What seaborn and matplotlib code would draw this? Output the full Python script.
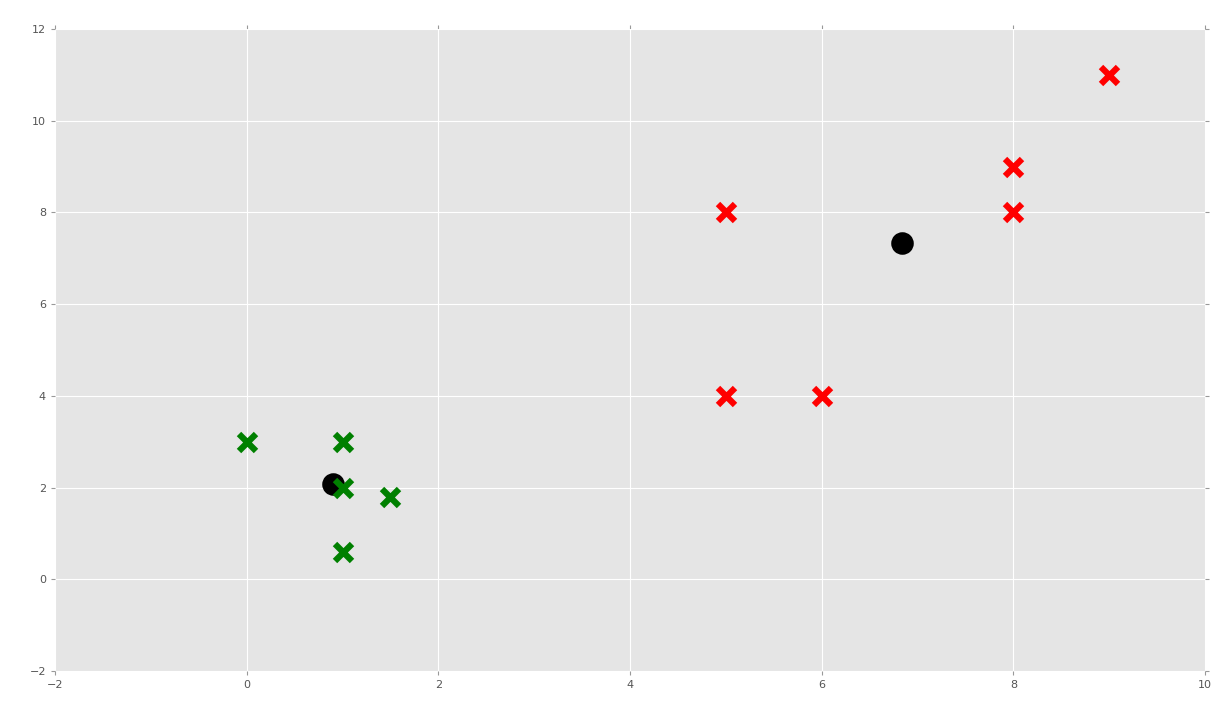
import matplotlib
matplotlib.use("Agg")
import matplotlib.pyplot as plt
import seaborn as sns
import pandas as pd

# data points and cluster labels
x_vals = [1, 1.5, 5, 8, 1, 9, 8, 0, 5, 6, 1]
y_vals = [2, 1.8, 8, 8, 0.6, 11, 9, 3, 4, 4, 3]
cluster = ["g", "g", "r", "r", "g", "r", "r", "g", "r", "r", "g"]
# centroids
cx = [0.9, 6.8333]
cy = [2.08, 7.3333]

sns.set_style({"axes.facecolor": "#E5E5E5", "axes.edgecolor": "white",
               "grid.color": "white", "axes.grid": True})
plt.rcParams["font.family"] = ["DejaVu Sans"]

fig = plt.figure(figsize=(12.28, 7.06), dpi=100)
ax = fig.add_axes([55/1228, 1-671/706, (1205-55)/1228, (671-29)/706])

cdf = pd.DataFrame({"x": cx, "y": cy})
sns.scatterplot(data=cdf, x="x", y="y", marker="o", color="k", s=150,
                linewidth=4, edgecolor="k", ax=ax, zorder=3)

df = pd.DataFrame({"x": x_vals, "y": y_vals, "c": cluster})
for c, col in [("g", "green"), ("r", "red")]:
    sub = df[df.c == c]
    sns.scatterplot(data=sub, x="x", y="y", marker="x", s=150, linewidth=4.5,
                    color=col, ax=ax, zorder=4)

ax.set_xlim(-2, 10)
ax.set_ylim(-2, 12)
ax.set_xlabel("")
ax.set_ylabel("")
ax.set_axisbelow(True)
ax.grid(True, color="white", linewidth=0.8)
for s in ax.spines.values():
    s.set_visible(False)
ax.tick_params(axis="both", which="both", direction="out", length=3, color="#999999",
               labelcolor="#555555", labelsize=8, top=True, right=True,
               bottom=True, left=True, width=0.8)
fig.savefig("out.png", dpi=100)
